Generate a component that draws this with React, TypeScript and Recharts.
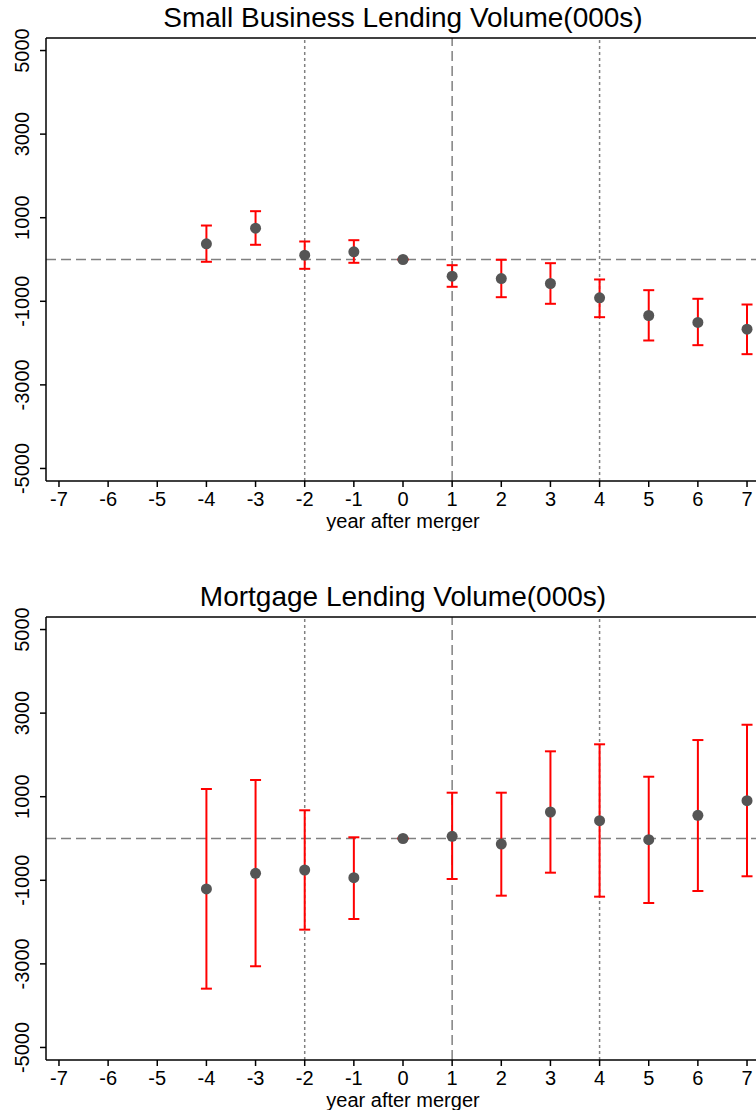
import {
  ScatterChart, Scatter, XAxis, YAxis, ErrorBar, ReferenceLine,
} from 'recharts'

// années relatives à la fusion
const years = [-4, -3, -2, -1, 0, 1, 2, 3, 4, 5, 6, 7]
const xTicks = [-7, -6, -5, -4, -3, -2, -1, 0, 1, 2, 3, 4, 5, 6, 7]
const yTicks = [-5000, -3000, -1000, 1000, 3000, 5000]

const sbEst = [375, 749, 103, 184, 0, -400, -455, -574, -916, -1340, -1507, -1667]
const sbLow = [-55, 352, -223, -79, 0, -653, -902, -1060, -1380, -1938, -2050, -2265]
const sbHigh = [813, 1156, 431, 462, 0, -136, -7, -88, -478, -734, -940, -1077]

const mEst = [-1208, -833, -754, -937, 0, 52, -132, 634, 426, -29, 555, 904]
const mLow = [-3593, -3057, -2181, -1926, 0, -969, -1368, -818, -1392, -1543, -1256, -904]
const mHigh = [1184, 1400, 675, 29, 0, 1096, 1096, 2086, 2254, 1478, 2356, 2722]

const FONT = '"Liberation Sans", Arial, sans-serif'
const GREY = '#808080'
const Y_MAX = 5300

function build(est: number[], low: number[], high: number[]) {
  return years.map((x, i) => ({ x, y: est[i], err: [est[i] - low[i], high[i] - est[i]] }))
}

// eslint-disable-next-line @typescript-eslint/no-explicit-any
const YTick = (props: any) => {
  const { x, y, payload } = props
  const tx = x - 9
  return (
    <text x={tx} y={y} transform={`rotate(-90, ${tx}, ${y})`} textAnchor="middle"
      fontSize={20} fontFamily={FONT} fill="#000">
      {payload.value}
    </text>
  )
}

// eslint-disable-next-line @typescript-eslint/no-explicit-any
const XTick = (props: any) => {
  const { x, y, payload } = props
  return (
    <text x={x} y={y} dy="0.71em" textAnchor="middle" fontSize={20} fontFamily={FONT} fill="#000">
      {payload.value}
    </text>
  )
}

// eslint-disable-next-line @typescript-eslint/no-explicit-any
const Dot = (p: any) => <circle cx={p.cx} cy={p.cy} r={5.5} fill="#555555" />

function Panel({ title, data }: { title: string; data: ReturnType<typeof build> }) {
  return (
    <ScatterChart width={770} height={531} margin={{ top: 38, right: 10, left: 0, bottom: 0 }}>
      <XAxis
        type="number" dataKey="x" domain={[-7.264, 7.264]} ticks={xTicks} interval={0}
        allowDataOverflow height={50} tickSize={6} tickMargin={5}
        stroke="#000" strokeWidth={1.5} tick={<XTick />}
        label={{ value: 'year after merger', position: 'insideBottom', offset: 3, fontSize: 20, fontFamily: FONT, fill: '#000' }}
      />
      <YAxis
        type="number" dataKey="y" domain={[-5300, Y_MAX]} ticks={yTicks} interval={0}
        allowDataOverflow width={46} tickSize={6} tickMargin={2}
        stroke="#000" strokeWidth={1.5} tick={<YTick />}
      />
      <ReferenceLine y={0} stroke={GREY} strokeWidth={1.5} strokeDasharray="10 5" />
      <ReferenceLine x={-2} stroke={GREY} strokeWidth={1.5} strokeDasharray="3 3" />
      <ReferenceLine x={1} stroke={GREY} strokeWidth={1.5} strokeDasharray="10 5" />
      <ReferenceLine x={4} stroke={GREY} strokeWidth={1.5} strokeDasharray="3 3" />
      <ReferenceLine
        y={Y_MAX} stroke="#000" strokeWidth={1.5}
        label={{ value: title, position: 'top', offset: 11, fontSize: 28, fontFamily: FONT, fill: '#000' }}
      />
      <Scatter data={data} shape={<Dot />} isAnimationActive={false}>
        <ErrorBar dataKey="err" direction="y" width={5.5} stroke="#ff0000" strokeWidth={2} isAnimationActive={false} />
      </Scatter>
    </ScatterChart>
  )
}

export default function App() {
  return (
    <div style={{ position: 'absolute', left: 0, top: 0, width: 756, height: 1116, overflow: 'hidden', background: '#fff' }}>
      <div style={{ position: 'absolute', left: 0, top: 0 }}>
        <Panel title="Small Business Lending Volume(000s)" data={build(sbEst, sbLow, sbHigh)} />
      </div>
      <div style={{ position: 'absolute', left: 0, top: 579 }}>
        <Panel title="Mortgage Lending Volume(000s)" data={build(mEst, mLow, mHigh)} />
      </div>
    </div>
  )
}
